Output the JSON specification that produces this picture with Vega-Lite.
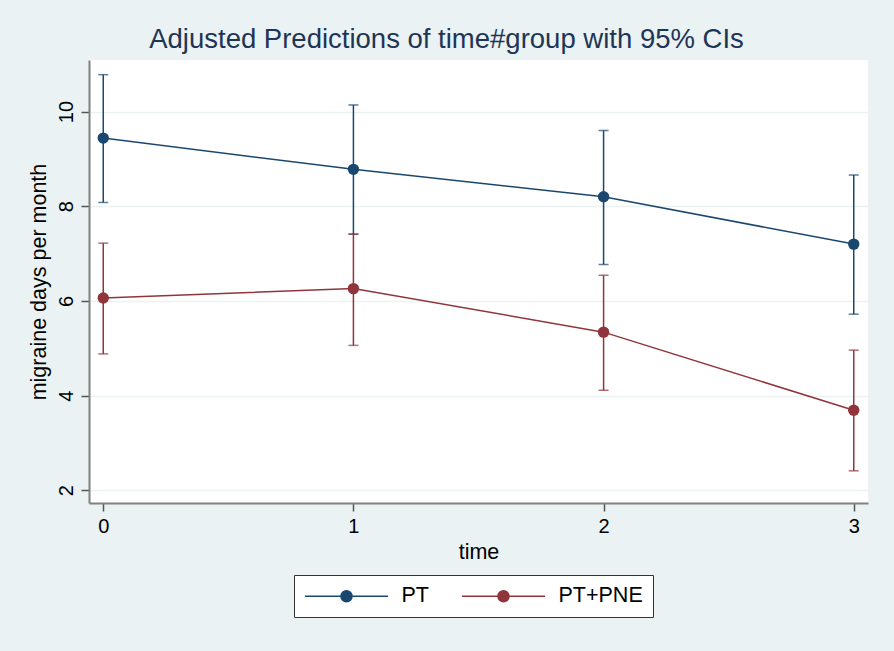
{
  "$schema": "https://vega.github.io/schema/vega-lite/v6.json",
  "autosize": "none",
  "width": 779,
  "height": 443,
  "padding": {"left": 89, "top": 60, "right": 26, "bottom": 148},
  "background": "#EAF2F3",
  "config": {
    "font": "Liberation Sans",
    "view": {"fill": "white", "stroke": null}
  },
  "title": {
    "text": "Adjusted Predictions of time#group with 95% CIs",
    "fontSize": 27.5,
    "fontWeight": "normal",
    "color": "#1E3556",
    "anchor": "middle",
    "dx": -32,
    "dy": 25,
    "baseline": "alphabetic",
    "offset": 10
  },
  "data": {
    "values": [
      {"time": 0, "group": "PT", "est": 9.44, "lo": 8.08, "hi": 10.78},
      {"time": 1, "group": "PT", "est": 8.78, "lo": 7.41, "hi": 10.14},
      {"time": 2, "group": "PT", "est": 8.20, "lo": 6.77, "hi": 9.60},
      {"time": 3, "group": "PT", "est": 7.20, "lo": 5.72, "hi": 8.66},
      {"time": 0, "group": "PT+PNE", "est": 6.06, "lo": 4.88, "hi": 7.22},
      {"time": 1, "group": "PT+PNE", "est": 6.26, "lo": 5.06, "hi": 7.41},
      {"time": 2, "group": "PT+PNE", "est": 5.34, "lo": 4.11, "hi": 6.54},
      {"time": 3, "group": "PT+PNE", "est": 3.69, "lo": 2.41, "hi": 4.96}
    ]
  },
  "encoding": {
    "x": {
      "field": "time", "type": "quantitative",
      "scale": {"domain": [-0.057, 3.057], "nice": false, "zero": false},
      "axis": {
        "title": "time", "titleFontSize": 21.5, "titleFontWeight": "normal", "titleColor": "black", "titlePadding": 5,
        "values": [0, 1, 2, 3], "format": "d",
        "labelFontSize": 20, "labelColor": "black", "labelPadding": 5,
        "grid": false, "domainColor": "#808080", "domainWidth": 2,
        "tickColor": "#555555", "tickWidth": 1.5, "tickSize": 8
      }
    },
    "color": {
      "field": "group", "type": "nominal",
      "scale": {"domain": ["PT", "PT+PNE"], "range": ["#1A476F", "#90353B"]},
      "legend": {
        "orient": "none", "legendX": 205, "legendY": 515,
        "direction": "horizontal", "title": null,
        "symbolType": "M-4.15,0L4.15,0M-0.55,0A0.55,0.55,0,1,0,0.55,0A0.55,0.55,0,1,0,-0.55,0Z",
        "symbolSize": 400, "symbolStrokeWidth": 1.5, "symbolOffset": 31.5, "symbolOpacity": 1,
        "labelOffset": 44, "labelFontSize": 21.5, "labelColor": "black",
        "columnPadding": 30, "padding": 10,
        "strokeColor": "#333333", "fillColor": "white",
        "encode": {
          "symbols": {"update": {
            "fill": {"scale": "color", "field": "value"},
            "stroke": {"scale": "color", "field": "value"},
            "opacity": {"value": 1}
          }}
        }
      }
    }
  },
  "layer": [
    {
      "mark": {"type": "errorbar", "ticks": {"size": 10, "thickness": 1.5}, "rule": {"strokeWidth": 1.5}},
      "encoding": {
        "y": {
          "field": "lo", "type": "quantitative",
          "scale": {"domain": [1.73, 11.09], "nice": false, "zero": false},
          "axis": {
            "title": "migraine days per month", "titleFontSize": 21.5, "titleFontWeight": "normal", "titleColor": "black", "titlePadding": 6,
            "values": [2, 4, 6, 8, 10],
            "labelFontSize": 20, "labelColor": "black", "labelAngle": -90, "labelAlign": "center", "labelBaseline": "alphabetic", "labelPadding": 9,
            "grid": true, "gridColor": "#EAF2F3", "gridWidth": 1.5,
            "domainColor": "#808080", "domainWidth": 2,
            "tickColor": "#555555", "tickWidth": 1.5, "tickSize": 8
          }
        },
        "y2": {"field": "hi"}
      }
    },
    {
      "mark": {"type": "line", "strokeWidth": 1.5},
      "encoding": {"y": {"field": "est", "type": "quantitative"}}
    },
    {
      "mark": {"type": "point", "filled": true, "size": 130, "opacity": 1},
      "encoding": {"y": {"field": "est", "type": "quantitative"}}
    }
  ]
}
